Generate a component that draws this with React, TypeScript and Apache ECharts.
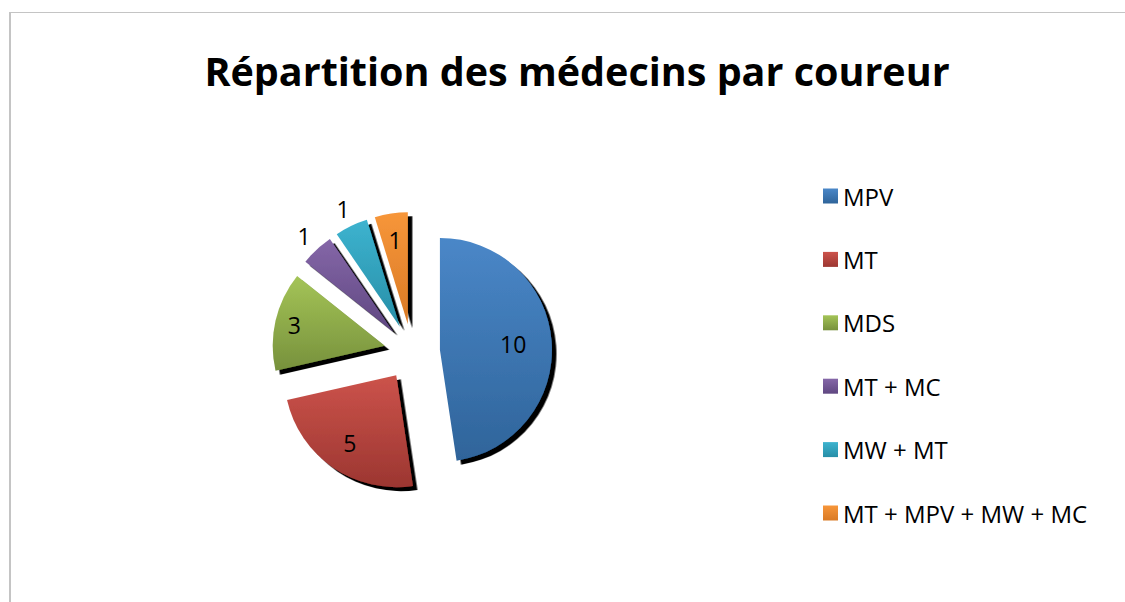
import React, { useEffect, useRef } from "react";
import * as echarts from "echarts";

const titleText = "Répartition des médecins par coureur";
const categories = ["MPV", "MT", "MDS", "MT + MC", "MW + MT", "MT + MPV + MW + MC"];
const values = [10, 5, 3, 1, 1, 1];
const topColors = ["#4a87c8", "#cc534b", "#a4c457", "#8567a8", "#3db3cf", "#f7963a"];
const bottomColors = ["#2f649a", "#9c3631", "#77913c", "#5f4781", "#278ea7", "#d97a25"];

// label distance from slice apex, as fraction of radius (layout only)
const labelRadiusRatio = [0.63, 0.71, 0.8, 1.14, 1.14, 0.73];

const FONT = "'Open Sans', 'Liberation Sans', sans-serif";
const R = 112;

export default function App() {
  const ref = useRef<HTMLDivElement>(null);
  useEffect(() => {
    if (!ref.current) return;
    const chart = echarts.init(ref.current, undefined, { renderer: "svg" });
    const total = values.reduce((a, b) => a + b, 0);
    const mids: number[] = [];
    let cum = 0;
    values.forEach((v) => {
      mids.push(((cum + v / 2) / total) * 2 * Math.PI);
      cum += v;
    });
    chart.setOption({
      animation: false,
      backgroundColor: "#ffffff",
      title: {
        text: titleText,
        left: 572,
        top: 46,
        textAlign: "center",
        textStyle: { fontFamily: FONT, fontWeight: "bold", fontSize: 39.5, color: "#000" },
      },
      graphic: [
        { type: "line", shape: { x1: 10, y1: 12.5, x2: 1200, y2: 12.5 }, style: { stroke: "#c4c4c4", lineWidth: 1.2 } },
        { type: "line", shape: { x1: 10, y1: 12, x2: 10, y2: 700 }, style: { stroke: "#c4c4c4", lineWidth: 2 } },
      ],
      legend: {
        orient: "vertical",
        left: 818,
        top: 178,
        itemWidth: 15,
        itemHeight: 15,
        itemGap: 37.4,
        icon: "rect",
        selectedMode: false,
        textStyle: { fontFamily: FONT, fontSize: 24, color: "#000", lineHeight: 26 },
        data: categories,
      },
      series: [
        {
          type: "pie",
          center: [412, 352],
          radius: [0, R],
          startAngle: 90,
          clockwise: true,
          selectedMode: "multiple",
          selectedOffset: 28,
          emphasis: { disabled: true },
          label: {
            show: true,
            position: "inside",
            formatter: "{c}",
            fontFamily: FONT,
            fontSize: 23,
            color: "#000",
          },
          labelLine: { show: false },
          labelLayout: (p: any) => {
            const i = p.dataIndex;
            const k = labelRadiusRatio[i] - 0.5;
            return { dx: k * R * Math.sin(mids[i]), dy: -k * R * Math.cos(mids[i]) };
          },
          itemStyle: {
            shadowColor: "#000",
            shadowBlur: 0,
            shadowOffsetX: 4.5,
            shadowOffsetY: 4,
          },
          data: categories.map((name, i) => ({
            name,
            value: values[i],
            selected: true,
            itemStyle: {
              color: new echarts.graphic.LinearGradient(0, 0, 0, 1, [
                { offset: 0, color: topColors[i] },
                { offset: 1, color: bottomColors[i] },
              ]),
            },
          })),
        },
      ],
    });
    return () => chart.dispose();
  }, []);
  return (
    <div
      ref={ref}
      style={{ position: "fixed", left: 0, top: 0, width: 1125, height: 602, background: "#fff" }}
    />
  );
}
